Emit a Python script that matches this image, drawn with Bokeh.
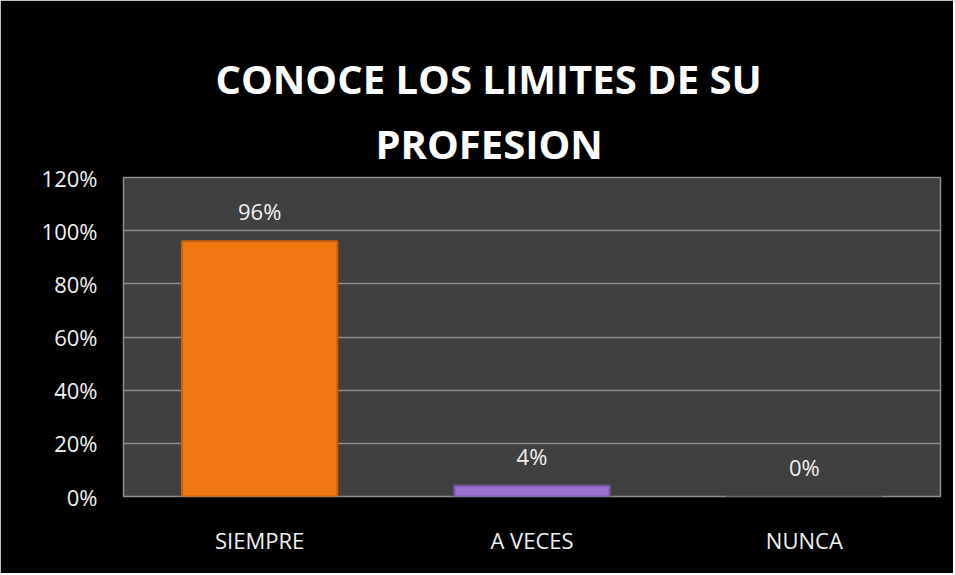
from bokeh.plotting import figure
from bokeh.models import ColumnDataSource, LabelSet, NumeralTickFormatter, FixedTicker, Range1d, Title
from bokeh.core.properties import value
from bokeh.embed import file_html
from bokeh.resources import INLINE

categories = ["SIEMPRE", "A VECES", "NUNCA"]
values = [0.96, 0.04, 0.0]
labels = ["96%", "4%", "0%"]
colors = ["#F07812", "#9B72D2", "#404040"]
line_colors = ["#C8620C", "#7A58A8", "#404040"]
yticks = [0, 0.2, 0.4, 0.6, 0.8, 1.0, 1.2]
title_lines = ["CONOCE LOS LIMITES DE SU", "PROFESION"]

FONT = "Open Sans"

src = ColumnDataSource(dict(cat=categories, val=values, lab=labels,
                            col=colors, lcol=line_colors))

p = figure(x_range=categories, y_range=Range1d(0, 1.2), width=953, height=573,
           output_backend="svg", toolbar_location=None, title=None,
           background_fill_color="#404040", border_fill_color="#000000",
           min_border_left=123, min_border_right=13, min_border_top=177,
           min_border_bottom=77)

# title lines: first added sits closest to the plot; left-aligned with offsets
# so that both lines are centred near the middle of the whole chart
for txt, so, off in ((title_lines[1], 14, 252), (title_lines[0], 2, 92)):
    t = Title(text=txt, text_color="white", text_font=FONT, text_font_size="40px",
              text_font_style="bold", align="left", standoff=so, offset=off)
    p.add_layout(t, "above")

p.outline_line_color = "#8C8C8C"
p.outline_line_width = 1.5

p.vbar(x="cat", top="val", width=0.57, source=src, fill_color="col",
       line_color="lcol", line_width=2)

p.add_layout(LabelSet(x="cat", y="val", text="lab", source=src,
                      text_align="center", text_baseline="bottom", y_offset=15,
                      text_color="#F0F0F0", text_font_size="22px",
                      text_font=value(FONT)))

p.yaxis.ticker = FixedTicker(ticks=yticks)
p.yaxis.formatter = NumeralTickFormatter(format="0%")
for ax in (p.xaxis, p.yaxis):
    ax.axis_line_color = None
    ax.major_tick_line_color = None
    ax.minor_tick_line_color = None
    ax.major_label_text_color = "#F0F0F0"
    ax.major_label_text_font = FONT
    ax.major_label_text_font_size = "22px"
p.yaxis.major_label_standoff = 20
p.xaxis.major_label_standoff = 22

p.xgrid.grid_line_color = None
p.ygrid.grid_line_color = "#8C8C8C"
p.ygrid.grid_line_width = 1.5
p.x_range.range_padding = 0

open("out.html", "w").write(file_html(p, INLINE))
